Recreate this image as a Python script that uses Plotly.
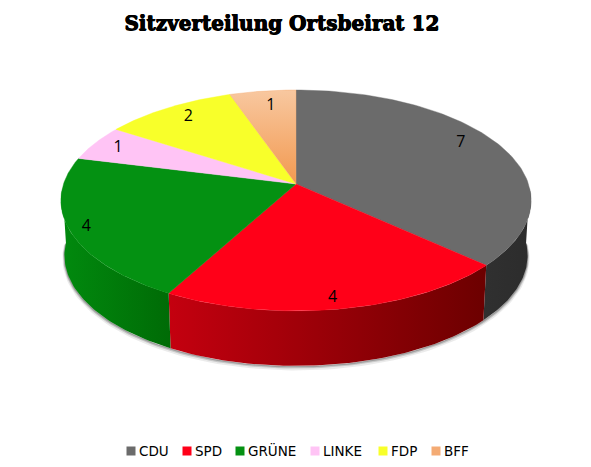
import numpy as np
import plotly.graph_objects as go

parteien = ['CDU', 'SPD', 'GRÜNE', 'LINKE', 'FDP', 'BFF']
sitze = [7, 4, 4, 1, 2, 1]
farben = ['#6b6b6b', '#ff0018', '#049112', '#ffc4f5', '#f8ff2a', '#f4ab74']
# Seitenwand: Verlauf von links nach rechts
wand_links = ['#303030', '#c4000f', '#018a0e', '#ffc4f5', '#f8ff2a', '#f4ab74']
wand_rechts = ['#2c2c2c', '#6c0000', '#006b06', '#ffc4f5', '#f8ff2a', '#f4ab74']

# Geometrie der gekippten Scheibe in Pixeln
cx, cy = 296, 184
rx, ry = 232.5, 108
kipp = 0.149
tiefe = 55
schwund = 0.985

# Lage der Sitzzahlen relativ zur Mitte des Stücks
text_radius = [0.85, 0.92, 0.93, 0.88, 0.85, 0.82]
text_drehung = [-4.3, 1, 0, 0, 1, 1]

# eigene Legende, dichter als die von plotly
legende_x = np.array([131, 187, 240, 315, 383, 436])
legende_y = 451


def projektion(winkel, r=1.0):
  # winkel im Uhrzeigersinn von oben, Grad
  t = np.radians(winkel)
  u = r * np.sin(t)
  v = r * np.cos(t)
  w = 1 + kipp * v
  return cx + rx * u / w, cy - ry * v / w


def unterkante(winkel):
  x, y = projektion(winkel)
  return cx + (x - cx) * schwund, y + tiefe


grenzen = np.cumsum([0] + sitze) / sum(sitze) * 360

fig = go.Figure()

# weicher Schatten unter der Scheibe
band = np.linspace(92, 268, 120)
for versatz, breite, alpha in [(2.5, 4, 0.10), (1.5, 2.5, 0.2), (0.8, 1.5, 0.3)]:
  sx, sy = unterkante(band)
  fig.add_trace(go.Scatter(x=sx, y=sy + versatz, mode='lines', showlegend=False, hoverinfo='skip',
                           line=dict(color='rgba(60,60,60,%s)' % alpha, width=breite)))

# Seitenwand
for i in range(len(sitze)):
  von = max(grenzen[i], 92)
  bis = min(grenzen[i + 1], 268)
  if bis <= von:
    continue
  bogen = np.linspace(von, bis, 60)
  ox, oy = projektion(bogen)
  ux, uy = unterkante(bogen)
  fig.add_trace(go.Scatter(
    x=np.concatenate([ox, ux[::-1], ox[:1]]),
    y=np.concatenate([oy, uy[::-1], oy[:1]]),
    mode='lines', fill='toself', showlegend=False, hoverinfo='skip',
    line=dict(width=0),
    fillgradient=dict(type='horizontal',
                      colorscale=[[0, wand_links[i]], [1, wand_rechts[i]]])))

# Oberseite
for i in range(len(sitze)):
  bogen = np.linspace(grenzen[i], grenzen[i + 1], 100)
  ox, oy = projektion(bogen)
  spur = dict(fillcolor=farben[i])
  if parteien[i] == 'BFF':
    spur = dict(fillgradient=dict(type='vertical', colorscale=[[0, '#f2994f'], [1, '#f8c8a0']]))
  fig.add_trace(go.Scatter(
    x=np.concatenate([[cx], ox, [cx]]),
    y=np.concatenate([[cy], oy, [cy]]),
    mode='lines', fill='toself', showlegend=False, hoverinfo='skip',
    line=dict(width=0.4, color=farben[i]), **spur))

# Sitzzahlen auf den Stücken
mitten = (grenzen[:-1] + grenzen[1:]) / 2 + np.array(text_drehung)
lx, ly = projektion(mitten, np.array(text_radius))
fig.add_trace(go.Scatter(x=lx, y=ly, mode='text', text=[str(s) for s in sitze], showlegend=False,
                         hoverinfo='skip', textfont=dict(family='Open Sans', size=16, color='black')))

# Legende
fig.add_trace(go.Scatter(x=legende_x, y=[legende_y] * len(parteien), mode='markers', showlegend=False,
                         hoverinfo='skip', marker=dict(symbol='square', size=9, color=farben)))
fig.add_trace(go.Scatter(x=legende_x + 8, y=[legende_y + 1.5] * len(parteien), mode='text', text=parteien,
                         textposition='middle right', showlegend=False, hoverinfo='skip',
                         textfont=dict(family='DejaVu Sans', size=13.5, color='black')))

fig.update_layout(
  width=591, height=467,
  margin=dict(l=0, r=0, t=0, b=0),
  paper_bgcolor='white',
  plot_bgcolor='white',
  showlegend=False,
  title=dict(text='<b>Sitzverteilung Ortsbeirat 12</b>', x=0.477, xanchor='center', y=0.95, yanchor='middle',
             font=dict(family='DejaVu Serif', size=20, color='black',
                       shadow='0.5px 0 0 black, -0.5px 0 0 black, 0 0.4px 0 black')),
  xaxis=dict(range=[0, 591], visible=False, fixedrange=True),
  yaxis=dict(range=[467, 0], visible=False, fixedrange=True),
)

fig.write_html("out.html", config=dict(displayModeBar=False), post_script="document.body.style.margin='0';")
